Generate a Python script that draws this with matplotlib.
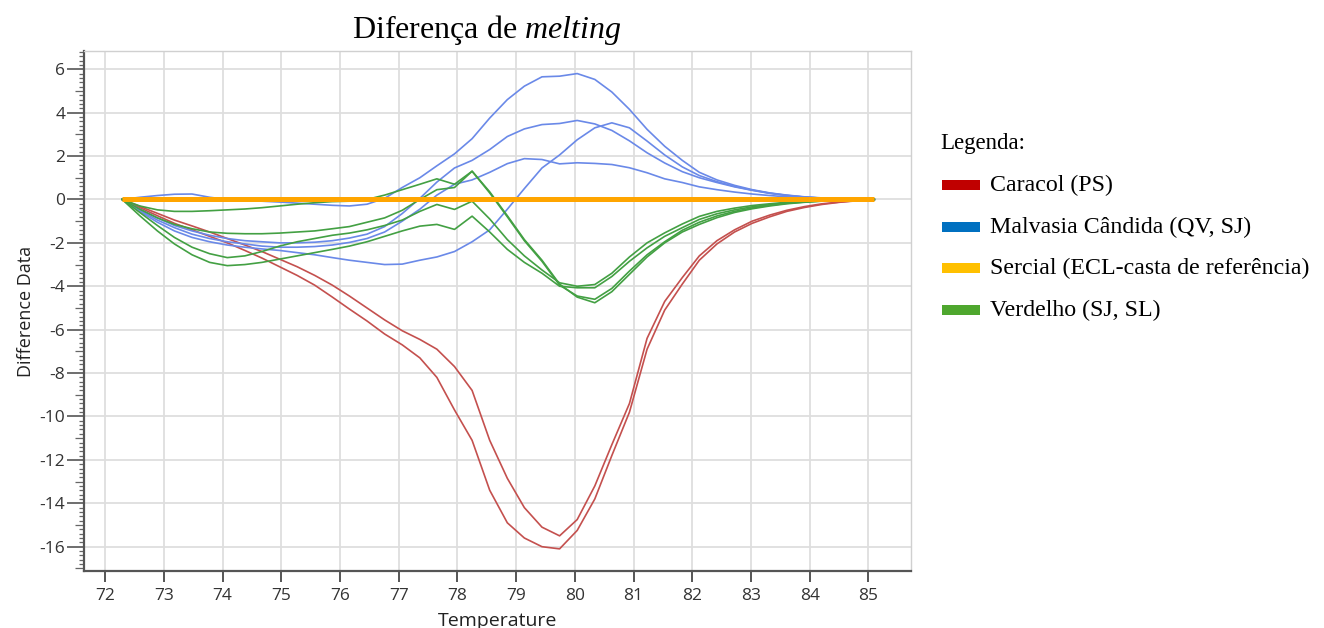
import matplotlib
matplotlib.use("Agg")
import matplotlib.pyplot as plt
from matplotlib.patches import Rectangle
from matplotlib.ticker import MultipleLocator

# temperatures (deg C) of the melt steps
temp = [72.29, 72.59, 72.89, 73.18, 73.48, 73.78, 74.08, 74.38, 74.67, 74.97,
        75.27, 75.57, 75.87, 76.16, 76.46, 76.76, 77.06, 77.36, 77.65, 77.95,
        78.25, 78.55, 78.85, 79.14, 79.44, 79.74, 80.04, 80.34, 80.63, 80.93,
        81.23, 81.53, 81.83, 82.12, 82.42, 82.72, 83.02, 83.32, 83.61, 83.91,
        84.21, 84.51, 84.81, 85.10]

caracol_1 = [0, -0.32, -0.64, -0.95, -1.22, -1.5, -1.8, -2.1, -2.4, -2.75,
             -3.1, -3.5, -3.95, -4.45, -5.0, -5.55, -6.05, -6.45, -6.9, -7.7,
             -8.8, -11.1, -12.85, -14.2, -15.1, -15.5, -14.75, -13.2, -11.3, -9.4,
             -6.4, -4.7, -3.6, -2.6, -1.9, -1.4, -1.0, -0.72, -0.5, -0.33,
             -0.2, -0.12, -0.05, 0]
caracol_2 = [0, -0.38, -0.75, -1.1, -1.4, -1.7, -2.0, -2.35, -2.7, -3.1,
             -3.5, -3.95, -4.5, -5.05, -5.6, -6.2, -6.7, -7.3, -8.2, -9.7,
             -11.1, -13.4, -14.9, -15.6, -16.0, -16.1, -15.25, -13.8, -11.8, -9.8,
             -6.9, -5.1, -3.9, -2.8, -2.05, -1.5, -1.1, -0.8, -0.55, -0.37,
             -0.23, -0.13, -0.06, 0]

malvasia_1 = [0, 0.1, 0.18, 0.24, 0.25, 0.1, 0.0, -0.04, -0.08, -0.12,
              -0.17, -0.22, -0.27, -0.3, -0.22, 0.05, 0.55, 1.0, 1.55, 2.1,
              2.8, 3.75, 4.6, 5.22, 5.65, 5.68, 5.8, 5.53, 4.95, 4.15,
              3.23, 2.45, 1.8, 1.25, 0.9, 0.65, 0.45, 0.3, 0.2, 0.12,
              0.07, 0.04, 0.02, 0]
malvasia_2 = [0, -0.45, -0.85, -1.2, -1.45, -1.65, -1.8, -1.9, -1.95, -2.0,
              -2.0, -1.97, -1.9, -1.78, -1.6, -1.25, -0.65, 0.05, 0.8, 1.45,
              1.8, 2.3, 2.9, 3.25, 3.45, 3.5, 3.64, 3.48, 3.18, 2.7,
              2.15, 1.68, 1.28, 1.0, 0.78, 0.58, 0.42, 0.28, 0.18, 0.11,
              0.06, 0.03, 0.01, 0]
malvasia_3 = [0, -0.55, -1.05, -1.45, -1.75, -1.95, -2.1, -2.2, -2.28, -2.35,
              -2.45, -2.55, -2.68, -2.8, -2.9, -3.0, -2.98, -2.8, -2.65, -2.4,
              -1.95, -1.4, -0.45, 0.5, 1.45, 2.05, 2.75, 3.3, 3.53, 3.3,
              2.69, 2.05, 1.5, 1.1, 0.82, 0.6, 0.43, 0.29, 0.19, 0.11,
              0.06, 0.03, 0.01, 0]
malvasia_4 = [0, -0.5, -0.95, -1.3, -1.6, -1.8, -1.95, -2.05, -2.15, -2.2,
              -2.2, -2.17, -2.1, -1.98, -1.8, -1.5, -1.0, -0.45, 0.2, 0.7,
              0.9, 1.25, 1.65, 1.88, 1.84, 1.64, 1.69, 1.66, 1.61, 1.46,
              1.23, 0.95, 0.78, 0.58, 0.45, 0.34, 0.25, 0.18, 0.12, 0.08,
              0.05, 0.03, 0.01, 0]

# reference cultivar: flat line
sercial_temp = [72.29, 85.10]
sercial = [0.0, 0.0]

verdelho_1 = [0, -0.3, -0.48, -0.55, -0.55, -0.52, -0.48, -0.44, -0.38, -0.3,
              -0.22, -0.15, -0.1, -0.08, 0.0, 0.2, 0.45, 0.7, 0.95, 0.7,
              1.3, 0.35, -0.75, -1.85, -2.8, -3.9, -4.5, -4.76, -4.25, -3.45,
              -2.65, -2.0, -1.5, -1.15, -0.84, -0.6, -0.43, -0.3, -0.2, -0.13,
              -0.08, -0.04, -0.02, 0]
verdelho_2 = [0, -0.45, -0.85, -1.15, -1.35, -1.5, -1.56, -1.58, -1.58, -1.55,
              -1.5, -1.45, -1.35, -1.25, -1.05, -0.85, -0.5, 0.0, 0.45, 0.55,
              1.3, 0.3, -0.8, -1.9, -2.85, -3.95, -4.45, -4.6, -4.1, -3.3,
              -2.55, -1.95, -1.42, -1.05, -0.76, -0.55, -0.39, -0.27, -0.18, -0.12,
              -0.07, -0.04, -0.02, 0]
verdelho_3 = [0, -0.6, -1.2, -1.75, -2.2, -2.5, -2.68, -2.6, -2.4, -2.15,
              -1.95, -1.8, -1.65, -1.55, -1.4, -1.2, -0.95, -0.55, -0.23, -0.46,
              -0.08, -0.9, -1.85, -2.6, -3.25, -3.84, -4.0, -3.92, -3.4, -2.65,
              -2.0, -1.54, -1.13, -0.78, -0.55, -0.4, -0.28, -0.2, -0.13, -0.09,
              -0.05, -0.03, -0.01, 0]
verdelho_4 = [0, -0.75, -1.45, -2.05, -2.55, -2.9, -3.05, -3.0, -2.9, -2.75,
              -2.6, -2.45, -2.3, -2.15, -1.95, -1.7, -1.45, -1.23, -1.15, -1.38,
              -0.77, -1.5, -2.3, -2.9, -3.4, -4.0, -4.07, -4.07, -3.55, -2.85,
              -2.23, -1.7, -1.3, -0.92, -0.66, -0.48, -0.34, -0.24, -0.16, -0.1,
              -0.06, -0.03, -0.01, 0]

x_ticks = list(range(72, 86))
y_ticks = list(range(-16, 7, 2))

legend_labels = ["Caracol (PS)", "Malvasia Cândida (QV, SJ)",
                 "Sercial (ECL-casta de referência)", "Verdelho (SJ, SL)"]
legend_colors = ["#C00000", "#0070C0", "#FFC000", "#4EA72E"]

plt.rcParams["mathtext.fontset"] = "custom"
plt.rcParams["mathtext.rm"] = "Liberation Serif"
plt.rcParams["mathtext.it"] = "Liberation Serif:italic"
plt.rcParams["axes.unicode_minus"] = False

W, H = 1324, 628
fig = plt.figure(figsize=(W / 100, H / 100), dpi=100)
ax = fig.add_axes([84 / W, 1 - 571 / H, (910.7 - 84) / W, (571 - 51) / H])

red, blue, green = "#C4504E", "#6A89E8", "#43A043"
for y in (caracol_1, caracol_2):
    ax.plot(temp, y, color=red, lw=1.2, zorder=3)
for y in (malvasia_1, malvasia_2, malvasia_3, malvasia_4):
    ax.plot(temp, y, color=blue, lw=1.2, zorder=3)
for y in (verdelho_1, verdelho_2, verdelho_3, verdelho_4):
    ax.plot(temp, y, color=green, lw=1.2, zorder=3)
ax.plot(sercial_temp, sercial, color="#FFA500", lw=3.6, zorder=4,
        solid_capstyle="butt")

ax.set_xlim(71.64, 85.72)
ax.set_ylim(-17.12, 6.84)
ax.set_xticks(x_ticks)
ax.set_yticks(y_ticks)
ax.yaxis.set_minor_locator(MultipleLocator(0.2))
ax.grid(True, color="#dedede", lw=1.3, zorder=0)

for side in ("top", "right"):
    ax.spines[side].set_color("#d0d0d0")
    ax.spines[side].set_linewidth(1.0)
for side in ("left", "bottom"):
    ax.spines[side].set_color("#555555")
    ax.spines[side].set_linewidth(1.6)

tick_font = {"family": "Open Sans", "size": 12.5}
ax.tick_params(axis="x", which="major", length=8, width=1.4, color="#555555",
               pad=4, labelcolor="#333333")
ax.tick_params(axis="y", which="major", length=12, width=1.2, color="#555555",
               pad=1.5, labelcolor="#333333")
ax.tick_params(axis="y", which="minor", length=3.5, width=0.9, color="#666666")
for lab in ax.get_xticklabels() + ax.get_yticklabels():
    lab.set_fontfamily(tick_font["family"])
    lab.set_fontsize(tick_font["size"])

# longer minor ticks at odd integers, like the instrument's ruler
locs = ax.yaxis.get_minorticklocs()
for loc, tick in zip(locs, ax.yaxis.get_minor_ticks(len(locs))):
    if abs(loc - round(loc)) < 1e-6 and int(round(loc)) % 2 != 0:
        tick.tick1line.set_markersize(6.5)

ax.set_xlabel("Temperature", fontfamily="Open Sans", fontsize=14,
              color="#222222", labelpad=6)
ax.set_ylabel("Difference Data", fontfamily="Open Sans", fontsize=13,
              color="#222222", labelpad=3)

fig.text(487 / W, 1 - 30 / H, "Diferença de $\\mathit{melting}$",
         family="Liberation Serif", fontsize=23, ha="center", va="center")

# hand-made legend on the right
fig.text(940 / W, 1 - 143 / H, "Legenda:", family="Liberation Serif",
         fontsize=16.5, ha="left", va="center")
row_y = [185, 227, 268, 310]
for lab, col, yy in zip(legend_labels, legend_colors, row_y):
    fig.add_artist(Rectangle((942 / W, 1 - (yy + 5) / H), 38 / W, 10 / H,
                             transform=fig.transFigure, color=col, lw=0))
    fig.text(990 / W, 1 - yy / H, lab, family="Liberation Serif",
             fontsize=17.2, ha="left", va="center")

fig.savefig("out.png", dpi=100)
